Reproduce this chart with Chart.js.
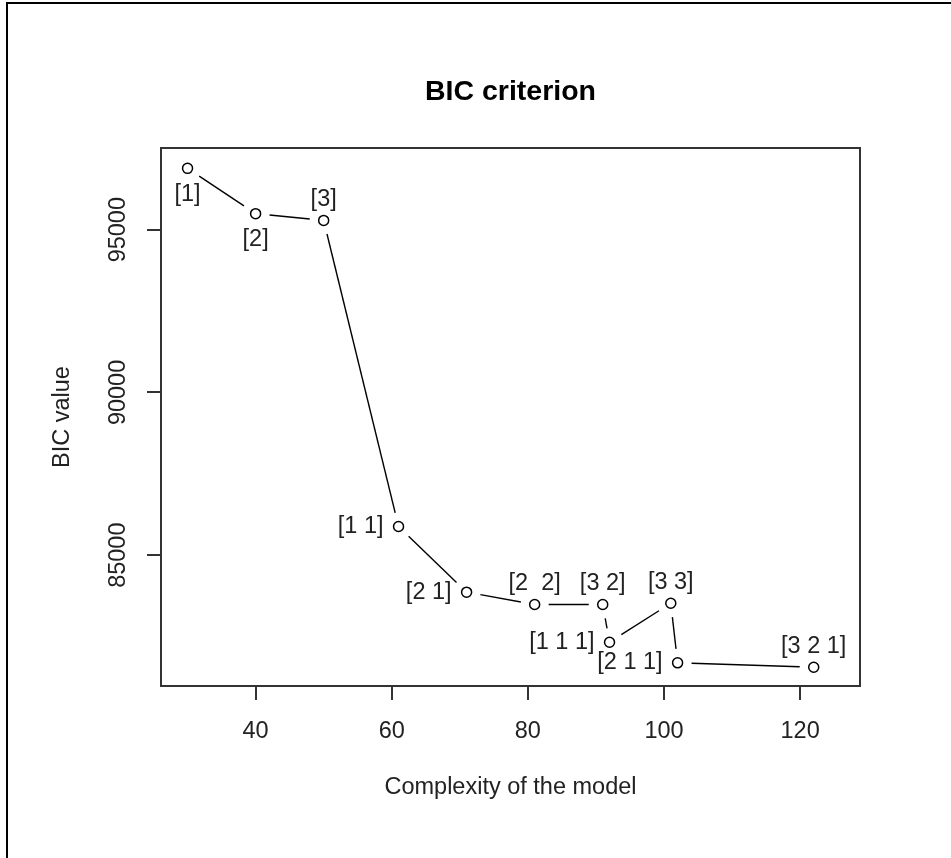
<!DOCTYPE html>
<html>
<head>
<meta charset="utf-8">
<title>BIC criterion</title>
<script src="https://cdn.jsdelivr.net/npm/chart.js@4.4.1/dist/chart.umd.min.js"></script>
<style>
  html, body { margin: 0; padding: 0; background: #fff; }
  #wrap { position: relative; width: 951px; height: 858px; overflow: hidden; }
  #frame {
    position: absolute; left: 6px; top: 2px; right: -10px; bottom: -10px;
    border-left: 2px solid #000; border-top: 2px solid #000; pointer-events: none;
  }
  canvas { position: absolute; left: 0; top: 0; }
</style>
</head>
<body>
<div id="wrap">
  <canvas id="bicChart" width="951" height="858"></canvas>
  <div id="frame"></div>
</div>
<script>
// number of free parameters of each fitted model
const complexity = [30, 40, 50, 61, 71, 81, 91, 92, 101, 102, 122];
// BIC of each model
const bicValues = [96884, 95492, 95286, 85882, 83863, 83484, 83484, 82326, 83524, 81692, 81557];
// model structure names
const modelNames = ['[1]', '[2]', '[3]', '[1 1]', '[2 1]', '[2  2]', '[3 2]', '[1 1 1]', '[3 3]', '[2 1 1]', '[3 2 1]'];
// where each name sits next to its point
const nameSide = ['below', 'below', 'above', 'left', 'left', 'above', 'above', 'left', 'above', 'left', 'above'];

const xTicks = [40, 60, 80, 100, 120];
const yTicks = [85000, 90000, 95000];

const FONT = 'Liberation Sans, Arial, Helvetica, sans-serif';
const INK = '#222';
const TEXT_SIZE = 23.5;

// R style type="b": segments stop short of the point symbols
const gappedLine = {
  id: 'gappedLine',
  beforeDatasetsDraw(chart) {
    const pts = chart.getDatasetMeta(0).data;
    const gap = 14;
    const ctx = chart.ctx;
    ctx.save();
    ctx.strokeStyle = '#000';
    ctx.lineWidth = 1.4;
    for (let i = 1; i < pts.length; i++) {
      const a = pts[i - 1], b = pts[i];
      const dx = b.x - a.x, dy = b.y - a.y;
      const len = Math.sqrt(dx * dx + dy * dy);
      if (len <= 2 * gap) continue;
      const ux = dx / len, uy = dy / len;
      ctx.beginPath();
      ctx.moveTo(a.x + ux * gap, a.y + uy * gap);
      ctx.lineTo(b.x - ux * gap, b.y - uy * gap);
      ctx.stroke();
    }
    ctx.restore();
  }
};

const pointNames = {
  id: 'pointNames',
  afterDatasetsDraw(chart) {
    const pts = chart.getDatasetMeta(0).data;
    const ctx = chart.ctx;
    ctx.save();
    ctx.font = TEXT_SIZE + 'px ' + FONT;
    ctx.fillStyle = INK;
    ctx.textBaseline = 'middle';
    pts.forEach((p, i) => {
      const side = nameSide[i];
      if (side === 'below') {
        ctx.textAlign = 'center';
        ctx.fillText(modelNames[i], p.x, p.y + 26);
      } else if (side === 'above') {
        ctx.textAlign = 'center';
        ctx.fillText(modelNames[i], p.x, p.y - 21);
      } else {
        ctx.textAlign = 'right';
        ctx.fillText(modelNames[i], p.x - 15, p.y);
      }
    });
    ctx.restore();
  }
};

const plotBox = {
  id: 'plotBox',
  afterDraw(chart) {
    const a = chart.chartArea;
    const ctx = chart.ctx;
    ctx.save();
    ctx.strokeStyle = '#333';
    ctx.lineWidth = 2;
    ctx.strokeRect(a.left, a.top, a.right - a.left, a.bottom - a.top);
    ctx.restore();
  }
};

const tickGrid = { drawOnChartArea: false, drawTicks: true, tickLength: 14, color: '#333', lineWidth: 2 };

new Chart(document.getElementById('bicChart'), {
  type: 'scatter',
  data: {
    datasets: [{
      data: complexity.map((x, i) => ({ x: x, y: bicValues[i] })),
      showLine: false,
      pointRadius: 5,
      pointHoverRadius: 5,
      pointBorderWidth: 1.5,
      pointBorderColor: '#000',
      pointBackgroundColor: 'rgba(0,0,0,0)'
    }]
  },
  options: {
    responsive: false,
    devicePixelRatio: 1,
    animation: false,
    events: [],
    layout: { padding: { left: 0, top: 0, right: 91, bottom: 0 } },
    plugins: {
      legend: { display: false },
      tooltip: { enabled: false },
      title: {
        display: true,
        text: 'BIC criterion',
        fullSize: false,
        color: '#000',
        font: { family: FONT, size: 28.5, weight: 'bold' },
        padding: { top: 74.9, bottom: 38.9 }
      }
    },
    scales: {
      x: {
        type: 'linear',
        position: 'bottom',
        min: 26.1,
        max: 128.8,
        afterBuildTicks: s => { s.ticks = xTicks.map(v => ({ value: v })); },
        afterFit: s => { s.height = 172; },
        grid: tickGrid,
        border: { display: false },
        ticks: {
          font: { family: FONT, size: TEXT_SIZE },
          color: INK,
          padding: 17,
          autoSkip: false,
          minRotation: 0,
          maxRotation: 0,
          callback: v => String(v)
        },
        title: {
          display: true,
          text: 'Complexity of the model',
          color: INK,
          font: { family: FONT, size: TEXT_SIZE },
          padding: { top: 0, bottom: 56 }
        }
      },
      y: {
        type: 'linear',
        position: 'left',
        min: 80980,
        max: 97510,
        afterBuildTicks: s => { s.ticks = yTicks.map(v => ({ value: v })); },
        afterFit: s => { s.width = 161; },
        grid: tickGrid,
        border: { display: false },
        ticks: {
          font: { family: FONT, size: TEXT_SIZE },
          color: INK,
          padding: -4,
          minRotation: 90,
          maxRotation: 90,
          crossAlign: 'center',
          callback: v => String(v)
        },
        title: {
          display: true,
          text: 'BIC value',
          color: INK,
          font: { family: FONT, size: TEXT_SIZE },
          padding: { top: 48, bottom: 0 }
        }
      }
    }
  },
  plugins: [gappedLine, pointNames, plotBox]
});
</script>
</body>
</html>
